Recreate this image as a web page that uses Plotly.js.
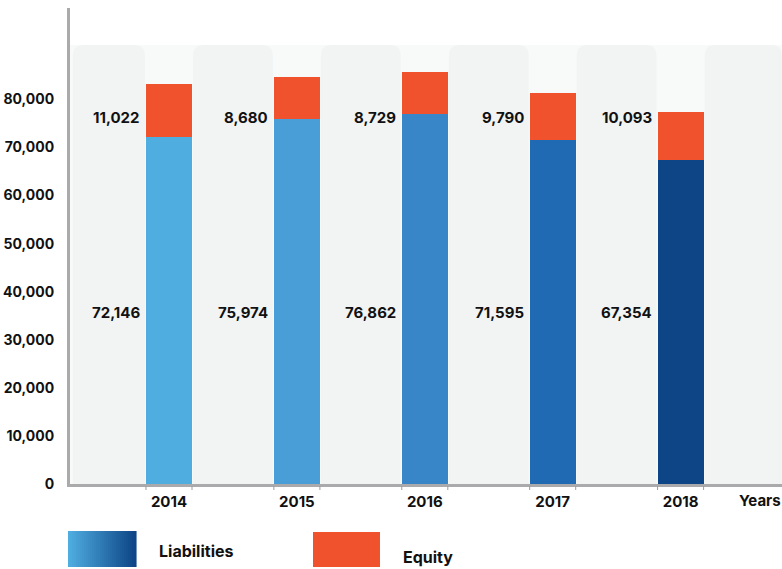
<!DOCTYPE html>
<html>
<head>
<meta charset="utf-8">
<script src="https://cdn.plot.ly/plotly-3.0.1.min.js"></script>
<style>html,body{margin:0;padding:0;background:#fff;}#chart{width:782px;height:569px;}</style>
</head>
<body>
<div id="chart"></div>
<script>
const years = ['2014', '2015', '2016', '2017', '2018'];
const liabilities = [72146, 75974, 76862, 71595, 67354];
const equity = [11022, 8680, 8729, 9790, 10093];
const liabilityLabels = ['72,146', '75,974', '76,862', '71,595', '67,354'];
const equityLabels = ['11,022', '8,680', '8,729', '9,790', '10,093'];

const liabColors = ['#4FADE0', '#4A9ED8', '#3886C8', '#1F6AB3', '#0D4587'];
const equityColor = '#F0522D';
const FONT = 'Inter, Lato, "Noto Sans", sans-serif';

const W = 782, H = 569;
const margin = {l: 70, r: 0, t: 8, b: 85};
const pw = W - margin.l - margin.r, ph = H - margin.t - margin.b;
const xr = [-0.774, 4.793];
const yr = [0, 99000];
const bw = 0.36;

function px2fx(px) { return (px - margin.l) / pw; }
function py2fy(py) { return (H - margin.b - py) / ph; }
function cx(v) { return (v - xr[0]) / (xr[1] - xr[0]); }

const shapes = [];
const topY = py2fy(45);
shapes.push({type: 'rect', xref: 'paper', yref: 'paper', x0: 0, x1: 1, y0: 0, y1: topY,
  fillcolor: '#F8F9F9', line: {width: 0}, layer: 'below'});
const rx = 11 / pw, ry = 11 / ph;
for (let i = 0; i <= years.length; i++) {
  const a = i === 0 ? 0.004 : cx(i - 1 + bw / 2) + 1 / pw;
  const b = i === years.length ? 1 : cx(i - bw / 2) - 1 / pw;
  const y0 = 0, y1 = topY;
  const path = `M ${a} ${y0} L ${a} ${y1 - ry} Q ${a} ${y1} ${a + rx} ${y1} L ${b - rx} ${y1} Q ${b} ${y1} ${b} ${y1 - ry} L ${b} ${y0} Z`;
  shapes.push({type: 'path', xref: 'paper', yref: 'paper', path: path,
    fillcolor: '#F2F4F4', line: {width: 0}, layer: 'below'});
}
for (let i = 0; i < years.length; i++) {
  [i - bw / 2, i + bw / 2].forEach(v => {
    shapes.push({type: 'line', xref: 'paper', yref: 'paper', x0: cx(v), x1: cx(v),
      y0: py2fy(486), y1: py2fy(490), line: {color: '#9A9AA6', width: 1}});
  });
}
const gx0 = px2fx(68), gx1 = px2fx(136), gy0 = py2fy(567), gy1 = py2fy(531);
const c0 = [0x4F, 0xAD, 0xE0], c1 = [0x0D, 0x45, 0x87];
const N = 34;
for (let k = 0; k < N; k++) {
  const t = k / (N - 1);
  const c = c0.map((v, j) => Math.round(v + (c1[j] - v) * t));
  shapes.push({type: 'rect', xref: 'paper', yref: 'paper',
    x0: gx0 + (gx1 - gx0) * k / N, x1: gx0 + (gx1 - gx0) * (k + 1) / N + 0.0008,
    y0: gy0, y1: gy1, fillcolor: `rgb(${c[0]},${c[1]},${c[2]})`, line: {width: 0}});
}
shapes.push({type: 'rect', xref: 'paper', yref: 'paper',
  x0: px2fx(313), x1: px2fx(380), y0: py2fy(567), y1: py2fy(532),
  fillcolor: equityColor, line: {width: 0}});

const annFont = {family: FONT, size: 15, color: '#111', weight: 700};
const annotations = [];
years.forEach((y, i) => {
  annotations.push({x: i, y: 35600, xref: 'x', yref: 'y', text: liabilityLabels[i],
    xanchor: 'right', yanchor: 'middle', xshift: -27, showarrow: false, font: annFont});
  annotations.push({x: i, y: 76300, xref: 'x', yref: 'y', text: equityLabels[i],
    xanchor: 'right', yanchor: 'middle', xshift: -27, showarrow: false, font: annFont});
});
annotations.push({x: px2fx(737), y: py2fy(500), xref: 'paper', yref: 'paper', text: 'Years',
  xanchor: 'left', yanchor: 'middle', showarrow: false, font: annFont});
const legFont = {family: FONT, size: 16, color: '#111', weight: 700};
annotations.push({x: px2fx(157), y: py2fy(551), xref: 'paper', yref: 'paper', text: 'Liabilities',
  xanchor: 'left', yanchor: 'middle', showarrow: false, font: legFont});
annotations.push({x: px2fx(401), y: py2fy(557), xref: 'paper', yref: 'paper', text: 'Equity',
  xanchor: 'left', yanchor: 'middle', showarrow: false, font: legFont});

const data = [
  {type: 'bar', name: 'Liabilities', x: years, y: liabilities,
   marker: {color: liabColors, line: {width: 0}}, hoverinfo: 'skip'},
  {type: 'bar', name: 'Equity', x: years, y: equity,
   marker: {color: equityColor, line: {width: 0}}, hoverinfo: 'skip'}
];

const layout = {
  width: W, height: H, margin: margin,
  paper_bgcolor: '#FFFFFF', plot_bgcolor: 'rgba(0,0,0,0)',
  barmode: 'stack', bargap: 1 - bw, showlegend: false,
  font: {family: FONT, color: '#111'},
  xaxis: {type: 'category', range: xr, showgrid: false, zeroline: false,
    showline: true, linecolor: '#AAAAAD', linewidth: 3,
    ticks: '', tickfont: {family: FONT, size: 15, color: '#111', weight: 700},
    ticklabelstandoff: 2, fixedrange: true},
  yaxis: {range: yr, showgrid: false, zeroline: false,
    showline: true, linecolor: '#AAAAAD', linewidth: 3,
    tickvals: [0, 10000, 20000, 30000, 40000, 50000, 60000, 70000, 80000],
    ticktext: ['0', '10,000', '20,000', '30,000', '40,000', '50,000', '60,000', '70,000', '80,000'],
    ticks: '', tickfont: {family: FONT, size: 14, color: '#111', weight: 700},
    ticklabelstandoff: 10, fixedrange: true},
  shapes: shapes,
  annotations: annotations
};

Plotly.newPlot('chart', data, layout, {displayModeBar: false, staticPlot: true});
</script>
</body>
</html>
